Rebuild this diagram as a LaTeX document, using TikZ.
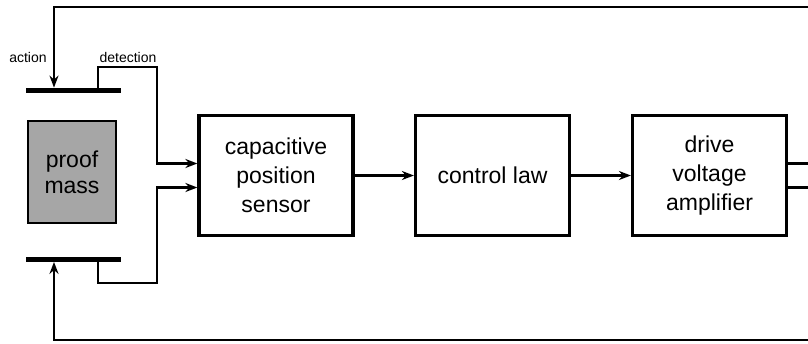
\documentclass[tikz,border=0pt]{standalone}
\usepackage{fontspec}
\setmainfont{Liberation Sans}
\usetikzlibrary{positioning,arrows.meta}
\definecolor{massgray}{HTML}{A6A6A6}

\begin{document}
\begin{tikzpicture}[x=0.5pt,y=-0.5pt,
		block/.style={draw,line width=1.6pt,minimum width=77pt,minimum height=60pt,align=center,font=\fontsize{11.5}{14.5}\selectfont},
		plate/.style={fill=black,inner sep=0pt,minimum width=47.5pt,minimum height=2.5pt},
		wire/.style={line width=1.1pt,-{Stealth[length=6pt,width=4.5pt]}},
		lbl/.style={font=\fontsize{7}{8}\selectfont,inner sep=0pt}]
			\useasboundingbox (0,0) rectangle (808,343);

			\node[block,fill=massgray,line width=1.2pt,minimum width=44pt,minimum height=51pt,font=\fontsize{11.5}{13}\selectfont] (mass) at (72,172) {proof\\mass};
			\node[plate] (topplate) at (73.5,90.5) {};
			\node[plate] (botplate) at (73.5,259) {};
			\node[block] (sensor) at (276,175.5) {capacitive\\position\\sensor};
			\node[block] (ctrl) at (492.5,175.5) {control law};
			\node[block] (amp) at (709.5,175.5) {drive\\voltage\\amplifier};
			\node[lbl] (action) at (28,57) {action};
			\node[lbl] (detection) at (128,57) {detection};

			\coordinate (act) at (54,0);
			\coordinate (det) at (98,67);
			\coordinate (detlow) at (98,283);
			\coordinate (bend) at (157,0);
			\coordinate (topright) at (808,7);
			\coordinate (botright) at (808,340);
			\coordinate (edge) at (808,0);

			\draw[wire] (topright) -| (topplate.north -| act);
			\draw[wire] (botright) -| (botplate.south -| act);
			\draw[wire] (topplate.north -| det) |- (bend |- det) |- ([yshift=6pt]sensor.west);
			\draw[wire] (botplate.south -| detlow) |- (bend |- detlow) |- ([yshift=-6pt]sensor.west);
			\draw[wire] (sensor) -- (ctrl);
			\draw[wire] (ctrl) -- (amp);
			\draw[wire,-] ([yshift=6pt]amp.east) -- ([yshift=6pt]amp.east -| edge);
			\draw[wire,-] ([yshift=-6pt]amp.east) -- ([yshift=-6pt]amp.east -| edge);
		\end{tikzpicture}
\end{document}
